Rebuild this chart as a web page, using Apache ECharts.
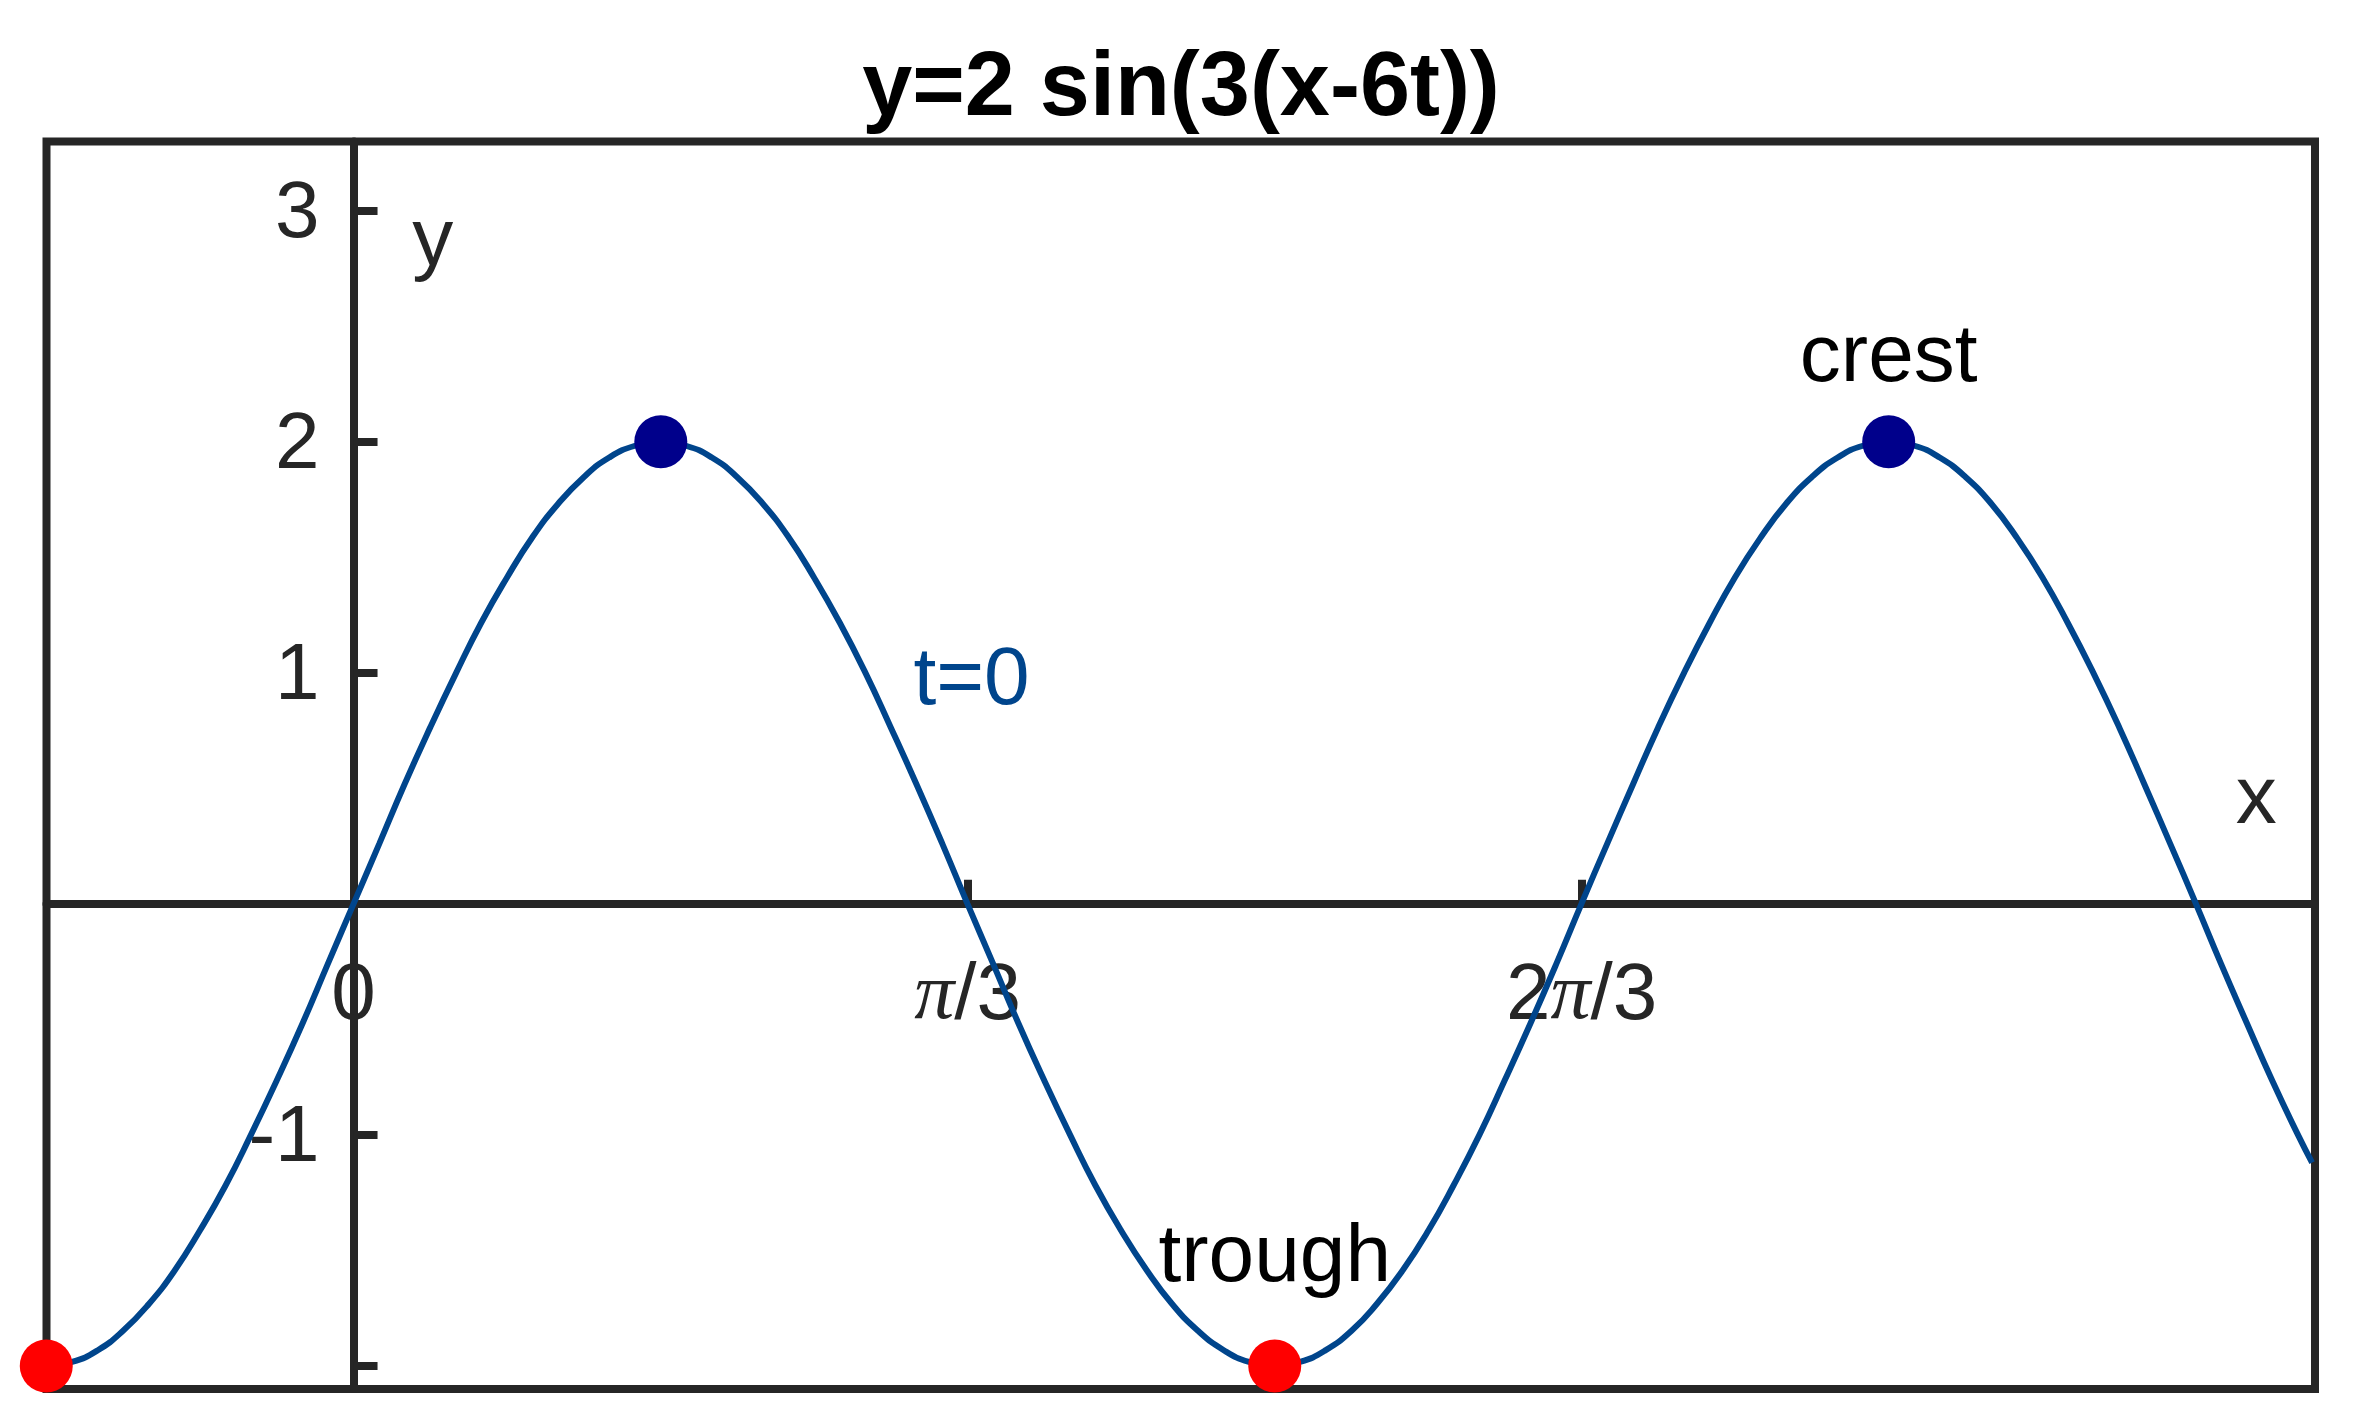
<!DOCTYPE html>
<html>
<head>
<meta charset="utf-8">
<script src="https://cdn.jsdelivr.net/npm/echarts@6/dist/echarts.min.js"></script>
<style>html,body{margin:0;padding:0;background:#fff}#c{width:2362px;height:1417px}</style>
</head>
<body>
<div id="c"></div>
<script>
// Curve samples (x in radians, y)
const curveX = [-0.524,-0.480,-0.436,-0.393,-0.349,-0.305,-0.262,-0.218,-0.175,-0.131,-0.087,-0.044,
  0,0.044,0.087,0.131,0.175,0.218,0.262,0.305,0.349,0.393,0.436,0.480,0.524,0.567,0.611,0.654,0.698,0.742,
  0.785,0.829,0.873,0.916,0.960,1.004,1.047,1.091,1.134,1.178,1.222,1.265,1.309,1.353,1.396,1.440,1.484,1.527,
  1.571,1.614,1.658,1.702,1.745,1.789,1.833,1.876,1.920,1.963,2.007,2.051,2.094,2.138,2.182,2.225,2.269,2.313,
  2.356,2.400,2.443,2.487,2.531,2.574,2.618,2.662,2.705,2.749,2.793,2.836,2.880,2.923,2.967,3.011,3.054,3.098,
  3.142,3.185,3.229,3.272,3.316,3.34];
const curveY = [-2,-1.983,-1.932,-1.848,-1.732,-1.587,-1.414,-1.218,-1,-0.765,-0.518,-0.261,
  0,0.261,0.518,0.765,1,1.218,1.414,1.587,1.732,1.848,1.932,1.983,2,1.983,1.932,1.848,1.732,1.587,
  1.414,1.218,1,0.765,0.518,0.261,0,-0.261,-0.518,-0.765,-1,-1.218,-1.414,-1.587,-1.732,-1.848,-1.932,-1.983,
  -2,-1.983,-1.932,-1.848,-1.732,-1.587,-1.414,-1.218,-1,-0.765,-0.518,-0.261,0,0.261,0.518,0.765,1,1.218,
  1.414,1.587,1.732,1.848,1.932,1.983,2,1.983,1.932,1.848,1.732,1.587,1.414,1.218,1,0.765,0.518,0.261,
  0,-0.261,-0.518,-0.765,-1,-1.12];
// Highlighted points
const crestX = [0.524, 2.618];
const crestY = [2, 2];
const troughX = [-0.524, 1.571];
const troughY = [-2, -2];
// Axis ranges and ticks
const xRange = [-0.5236, 3.345];
const yRange = [-2.1, 3.3];
const xTickValues = [1.0472, 2.0944];
const xLabelValues = [0, 1.0472, 2.0944];
const xTickLabels = ['0', '{pi|π}/3', '2{pi|π}/3'];
const yTickValues = [-2, -1, 1, 2, 3];
const yLabelValues = [-1, 1, 2, 3];
const yTickLabels = ['-1', '1', '2', '3'];
// Text annotations (data coordinates of text centers)
const annoText = ['crest', 'trough', 't=0', 'y', 'x'];
const annoX = [2.618, 1.571, 1.054, 0.135, 3.245];
const annoY = [2.36, -1.535, 0.965, 2.865, 0.45];
const annoColor = ['#000000', '#000000', '#00458C', '#262626', '#262626'];

const AX = '#262626';
const FONT = 'Liberation Sans';
const chart = echarts.init(document.getElementById('c'), null, {renderer: 'canvas'});

const zip = (a, b) => a.map((v, i) => [v, b[i]]);
const hidden = {color: 'rgba(0,0,0,0)', opacity: 1};

chart.setOption({
  animation: false,
  backgroundColor: '#ffffff',
  title: {
    text: 'y=2 sin(3(x-6t))',
    left: 'center',
    top: 40,
    textStyle: {fontFamily: FONT, fontWeight: 'bold', fontSize: 90, color: '#000'}
  },
  grid: {
    left: 46.5, top: 141.5, right: 47, bottom: 28,
    containLabel: false, outerBoundsMode: 'none',
    show: true, borderColor: AX, borderWidth: 8, backgroundColor: 'transparent'
  },
  xAxis: {
    type: 'value', min: xRange[0], max: xRange[1],
    axisLine: {onZero: true, lineStyle: {color: AX, width: 8}},
    axisTick: {show: true, inside: true, length: 24, customValues: xTickValues, lineStyle: {color: AX, width: 8}},
    axisLabel: {show: false},
    splitLine: {show: false}
  },
  yAxis: {
    type: 'value', min: yRange[0], max: yRange[1],
    axisLine: {onZero: true, lineStyle: {color: AX, width: 8}},
    axisTick: {show: true, inside: true, length: 24, customValues: yTickValues, lineStyle: {color: AX, width: 8}},
    axisLabel: {show: false},
    splitLine: {show: false}
  },
  series: [
    {
      // x tick labels under the zero line
      type: 'scatter', clip: false, symbolSize: 1, z: 1, silent: true,
      itemStyle: hidden,
      data: xLabelValues.map((v, i) => ({
        value: [v, 0],
        label: {
          show: true, position: 'inside', offset: [0, 93], formatter: xTickLabels[i],
          fontFamily: FONT, fontSize: 80, color: AX, align: 'center', verticalAlign: 'middle',
          rich: {pi: {fontFamily: 'Liberation Serif', fontStyle: 'italic', fontSize: 80, color: AX}}
        }
      }))
    },
    {
      // y tick labels left of the zero line
      type: 'scatter', clip: false, symbolSize: 1, z: 1, silent: true,
      itemStyle: hidden,
      data: yLabelValues.map((v, i) => ({
        value: [0, v],
        label: {
          show: true, position: 'inside', offset: [-34, 4], formatter: yTickLabels[i],
          fontFamily: FONT, fontSize: 80, color: AX, align: 'right', verticalAlign: 'middle'
        }
      }))
    },
    {
      type: 'line', data: zip(curveX, curveY), smooth: true, showSymbol: false,
      lineStyle: {color: '#00458C', width: 6}, z: 3
    },
    {
      type: 'scatter', data: zip(crestX, crestY), symbolSize: 53, clip: false,
      itemStyle: {color: '#00008B', opacity: 1}, z: 4
    },
    {
      type: 'scatter', data: zip(troughX, troughY), symbolSize: 53, clip: false,
      itemStyle: {color: '#FF0000', opacity: 1}, z: 4
    },
    {
      type: 'scatter', clip: false, symbolSize: 1, z: 5, silent: true,
      itemStyle: hidden,
      data: annoText.map((t, i) => ({
        value: [annoX[i], annoY[i]],
        label: {
          show: true, position: 'inside', formatter: t,
          fontFamily: FONT, fontSize: 82, color: annoColor[i],
          align: 'center', verticalAlign: 'middle'
        }
      }))
    }
  ]
});
</script>
</body>
</html>
